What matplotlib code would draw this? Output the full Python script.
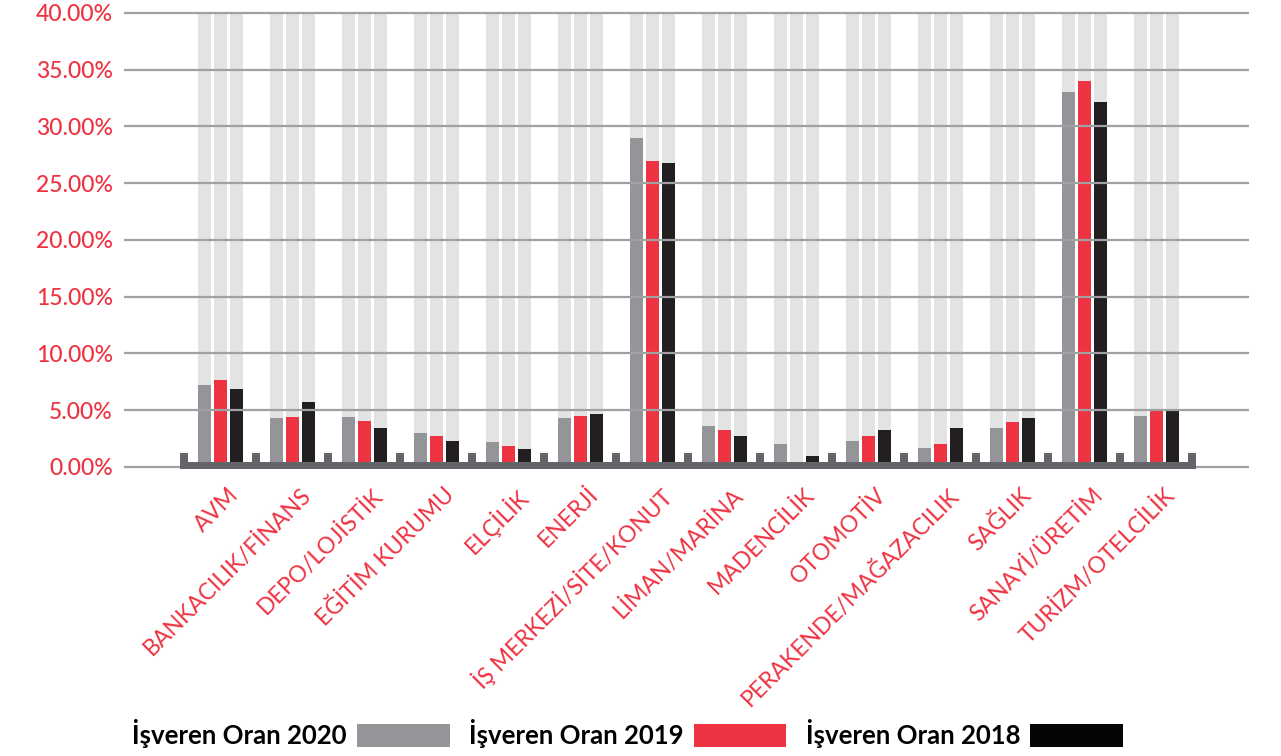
"""Grouped bar chart: İşveren oranları by sector, 2020 / 2019 / 2018."""

import matplotlib
matplotlib.use("Agg")
import matplotlib.pyplot as plt
import numpy as np
from matplotlib.patches import Patch

SECTORS = [
    "AVM", "BANKACILIK/FİNANS", "DEPO/LOJİSTİK", "EĞİTİM KURUMU", "ELÇİLİK",
    "ENERJİ", "İŞ MERKEZİ/SİTE/KONUT", "LİMAN/MARİNA", "MADENCİLİK", "OTOMOTİV",
    "PERAKENDE/MAĞAZACILIK", "SAĞLIK", "SANAYİ/ÜRETİM", "TURİZM/OTELCİLİK",
]
ORAN_2020 = [7.22, 4.32, 4.41, 3.00, 2.20, 4.32, 28.99, 3.61, 2.03, 2.29, 1.67, 3.44, 33.04, 4.49]
ORAN_2019 = [7.66, 4.41, 4.05, 2.73, 1.85, 4.49, 26.96, 3.26, 0.00, 2.73, 2.03, 3.96, 34.00, 4.93]
ORAN_2018 = [6.87, 5.73, 3.44, 2.29, 1.59, 4.67, 26.78, 2.73, 0.97, 3.26, 3.44, 4.32, 32.16, 4.93]
SERIES_NAMES = ["İşveren Oran 2020", "İşveren Oran 2019", "İşveren Oran 2018"]
Y_TICKS = [0, 5, 10, 15, 20, 25, 30, 35, 40]

GRAY = "#939598"
RED = "#ee3342"
BLACK = "#231f20"
LEGEND_BLACK = "#050505"
BG_COL = "#e3e3e3"
GRID = "#a0a1a4"
AXIS_DARK = "#636569"

plt.rcParams["font.family"] = ["Lato", "DejaVu Sans"]

fig = plt.figure(figsize=(12.81, 7.56), dpi=100)
ax = fig.add_axes([124 / 1281, 0.3673, 1125 / 1281, 0.6231])

x = np.arange(len(SECTORS))
offsets = [-16 / 72, 0, 16 / 72]
width = 13 / 72
series = [ORAN_2020, ORAN_2019, ORAN_2018]
colors = [GRAY, RED, BLACK]

# light background columns behind each bar
for off in offsets:
    ax.bar(x + off, Y_TICKS[-1], width, color=BG_COL, zorder=1)

for vals, off, col in zip(series, offsets, colors):
    ax.bar(x + off, vals, width, color=col, zorder=2)

# gridlines on top of bars
for t in Y_TICKS:
    ax.axhline(t, color=GRID, lw=1.6, zorder=3)

# dark baseline with small separators between groups
seps = np.arange(len(SECTORS) + 1) - 0.5
ax.bar(seps, 1.41, 8 / 72, bottom=-0.18, color=AXIS_DARK, zorder=4)
ax.bar(6.5, 0.62, len(SECTORS) + 8 / 72, bottom=-0.18, color=AXIS_DARK, zorder=4)

ax.set_xlim(-1.34, 14.285)
ax.set_ylim(-1, 40.5)
ax.set_yticks(Y_TICKS, [f"{t:.2f}%" for t in Y_TICKS])
ax.set_xticks(x + 0.1, SECTORS, rotation=45, ha="right", rotation_mode="anchor")
ax.tick_params(axis="y", length=0, pad=8, labelsize=16.5, labelcolor=RED)
ax.tick_params(axis="x", length=0, pad=4, labelsize=16.5, labelcolor=RED)
for lab in ax.get_yticklabels():
    lab.set_fontweight("medium")
for s in ax.spines.values():
    s.set_visible(False)

handles = [Patch(facecolor=c, edgecolor="none") for c in [GRAY, RED, LEGEND_BLACK]]
fig.legend(
    handles, SERIES_NAMES, loc="center", bbox_to_anchor=(0.49, 0.03), ncol=3,
    markerfirst=False, frameon=False, handlelength=3.6, handleheight=1.0,
    handletextpad=0.4, columnspacing=0.75,
    prop={"size": 18.5, "weight": "bold"},
)

fig.savefig("out.png", dpi=100)
